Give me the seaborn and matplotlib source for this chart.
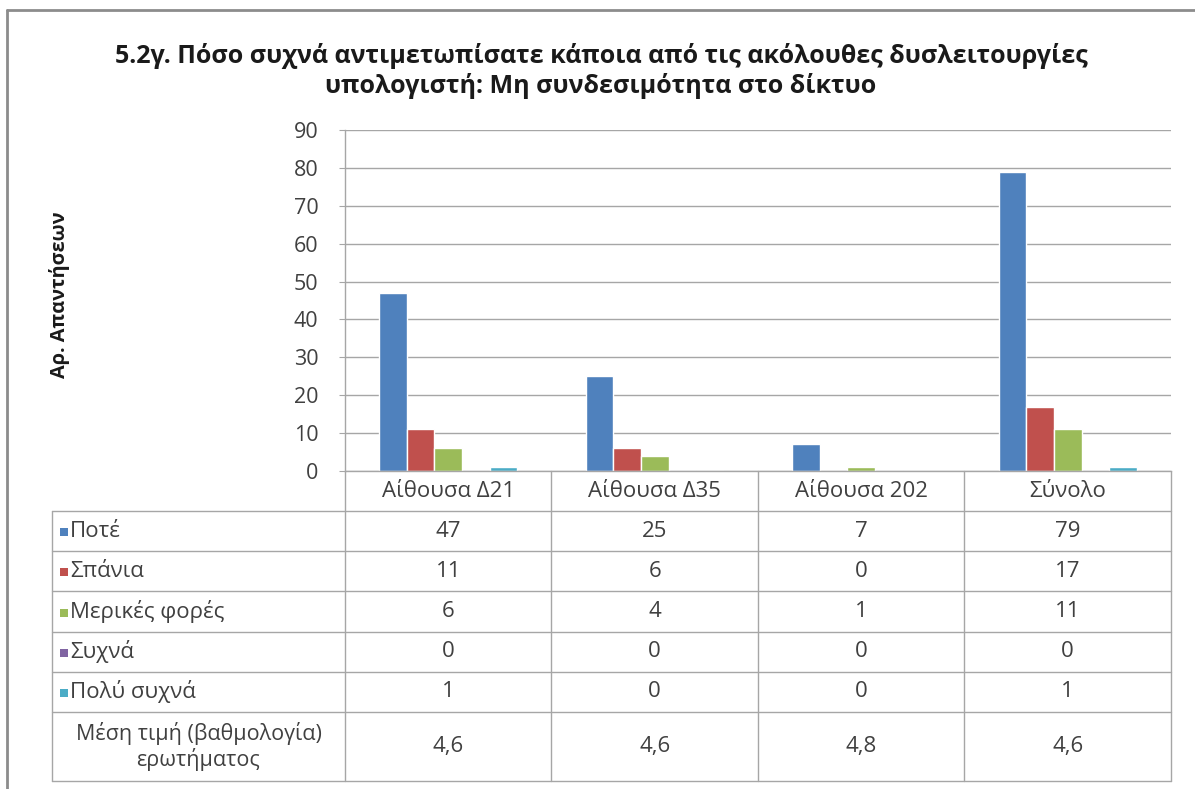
import pandas as pd
import seaborn as sns
from matplotlib import pyplot as plt

categories = ["Αίθουσα Δ21", "Αίθουσα Δ35", "Αίθουσα 202", "Σύνολο"]
series = ["Ποτέ", "Σπάνια", "Μερικές φορές", "Συχνά", "Πολύ συχνά"]
never = [47, 25, 7, 79]
rarely = [11, 6, 0, 17]
sometimes = [6, 4, 1, 11]
often = [0, 0, 0, 0]
very_often = [1, 0, 0, 1]
mean_label = "Μέση τιμή (βαθμολογία)\nερωτήματος"
mean_score = ["4,6", "4,6", "4,8", "4,6"]

colors = ["#4F81BD", "#C0504D", "#9BBB59", "#8064A2", "#4BACC6"]
values = [never, rarely, sometimes, often, very_often]

rows = []
for s, vals in zip(series, values):
    for cat, v in zip(categories, vals):
        rows.append({"category": cat, "series": s, "value": v})
df = pd.DataFrame(rows)

sns.set_style("white")
plt.rcParams["font.family"] = ["Open Sans", "DejaVu Sans"]

W, H = 1195, 789
grid_c = "#A6A6A6"
text_c = "#404040"
fs = 16

fig = plt.figure(figsize=(W / 100, H / 100), dpi=100)
ax = fig.add_axes([345 / W, 1 - 471 / H, (1171 - 345) / W, (471 - 130) / H])

sns.barplot(data=df, x="category", y="value", hue="series", order=categories,
            hue_order=series, palette=colors, width=0.667, saturation=1,
            errorbar=None, legend=False, ax=ax)

ax.set_xlim(-0.5, 3.5)
ax.set_ylim(0, 90)
ax.set_yticks(range(0, 91, 10))
ax.set_xticks([])
ax.set_xlabel("")
ax.set_ylabel("")
ax.yaxis.grid(True, color=grid_c, lw=1)
ax.set_axisbelow(True)
for side in ["top", "right"]:
    ax.spines[side].set_visible(False)
for side in ["left", "bottom"]:
    ax.spines[side].set_color(grid_c)
    ax.spines[side].set_linewidth(1)
ax.tick_params(axis="y", left=True, length=4, color=grid_c, labelsize=15.5,
               labelcolor=text_c, pad=15)

fig.text(601 / W, 1 - 71 / H,
         "5.2γ. Πόσο συχνά αντιμετωπίσατε κάποια από τις ακόλουθες δυσλειτουργίες\n"
         "υπολογιστή: Μη συνδεσιμότητα στο δίκτυο",
         ha="center", va="center", fontsize=18, fontweight="bold",
         color="#1a1a1a", linespacing=1.2)
fig.text(59 / W, 1 - 295 / H, "Αρ. Απαντήσεων", rotation=90, ha="center",
         va="center", fontsize=14.3, fontweight="bold", color="#1a1a1a")

# data table under the chart, aligned with the category axis
tab = fig.add_axes([0, 0, 1, 1])
tab.set_xlim(0, W)
tab.set_ylim(H, 0)
tab.set_axis_off()
tab.patch.set_visible(False)

fig.canvas.draw()
edges = [ax.transData.transform((i - 0.5, 0))[0] for i in range(len(categories) + 1)]
centers = [ax.transData.transform((i, 0))[0] for i in range(len(categories))]

left = 52
top_hdr = 471
hdr_bot = 511
row_h = 40.2
mean_bot = 781
row_lines = [hdr_bot + row_h * k for k in range(len(series) + 1)]

for x in edges:
    tab.plot([x, x], [top_hdr, mean_bot], color=grid_c, lw=1)
tab.plot([left, left], [hdr_bot, mean_bot], color=grid_c, lw=1)
for y in row_lines + [mean_bot]:
    tab.plot([left, edges[-1]], [y, y], color=grid_c, lw=1)

for cx, cat in zip(centers, categories):
    tab.text(cx, (top_hdr + hdr_bot) / 2, cat, ha="center", va="center",
             fontsize=fs, color=text_c)

for k, (s, vals) in enumerate(zip(series, values)):
    yc = row_lines[k] + row_h / 2
    tab.add_patch(plt.Rectangle((60, yc - 3), 8, 8, color=colors[k], lw=0))
    tab.text(70, yc, s, ha="left", va="center", fontsize=fs, color=text_c)
    for cx, v in zip(centers, vals):
        tab.text(cx, yc, str(v), ha="center", va="center", fontsize=fs, color=text_c)

ym = (row_lines[-1] + mean_bot) / 2
tab.text((left + edges[0]) / 2, ym, mean_label, ha="center", va="center",
         fontsize=15.5, color=text_c, linespacing=1.15)
for cx, m in zip(centers, mean_score):
    tab.text(cx, ym, m, ha="center", va="center", fontsize=fs, color=text_c)

# outer chart frame
tab.plot([7, 7], [10, H], color="#8C8C8C", lw=2)
tab.plot([7, W], [10, 10], color="#8C8C8C", lw=2)

fig.savefig("out.png", dpi=100)
